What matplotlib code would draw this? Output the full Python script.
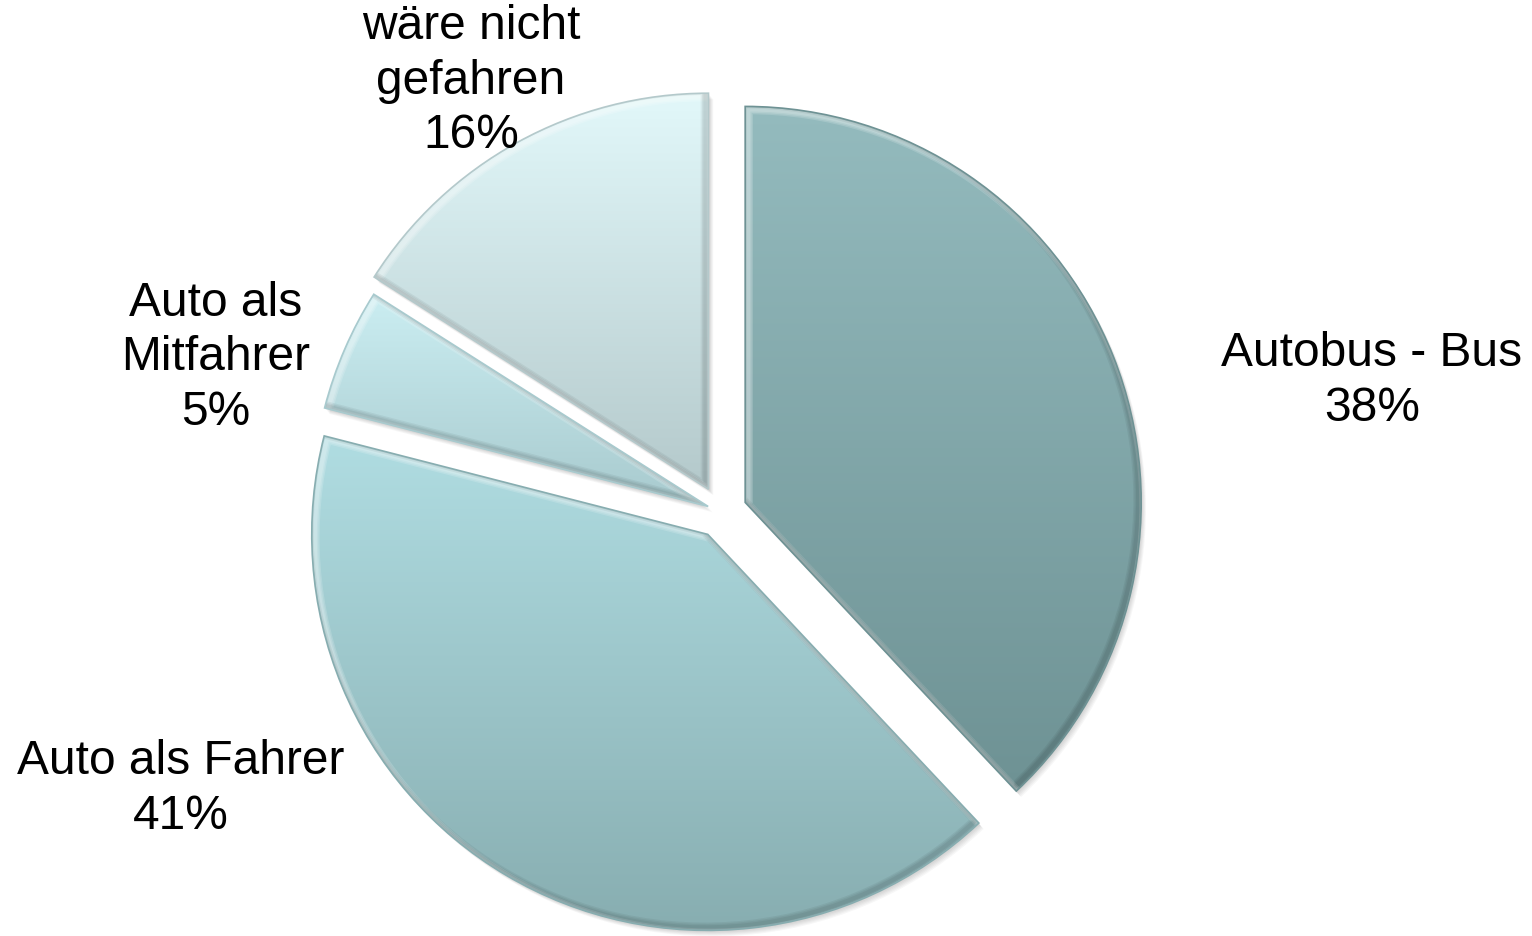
import matplotlib
matplotlib.use('Agg')
import matplotlib.pyplot as plt
import matplotlib.patches as mpatches
from matplotlib.path import Path
from matplotlib.colors import LinearSegmentedColormap
import numpy as np

# chart data
categories = ['Autobus - Bus', 'Auto als Fahrer', 'Auto als\nMitfahrer', 'wäre nicht\ngefahren']
shares = [38, 41, 5, 16]

# style: top / bottom colour of the vertical gradient per slice
top_colors = ['#94bbbe', '#b0dde2', '#cbeef2', '#e2f8fa']
bottom_colors = ['#6e9294', '#87adb0', '#a8cace', '#b4c9cb']
explode = [26, 26, 14, 26]
label_pos = [(1372, 556), (181, 148), (216, 579), (471, 856)]

plt.rcParams['font.family'] = ['Liberation Sans', 'DejaVu Sans']

fig = plt.figure(figsize=(15.32, 9.37), dpi=100)
ax = fig.add_axes([0, 0, 1, 1])

wedges, _ = ax.pie(shares, startangle=90, counterclock=False,
                   explode=explode, radius=396, center=(721, 424))

grad = np.linspace(0, 1, 256).reshape(-1, 1)
for i, w in enumerate(wedges):
    #   soft shadow below/right of each slice
    for k in range(1, 7):
        sh = mpatches.Wedge((w.center[0] + 0.8 * k, w.center[1] - 1.0 * k), w.r,
                            w.theta1, w.theta2, facecolor='#000000',
                            edgecolor='none', alpha=0.03, zorder=0)
        ax.add_patch(sh)

    path = w.get_path()
    verts = path.vertices
    x0, x1 = verts[:, 0].min(), verts[:, 0].max()
    y0, y1 = verts[:, 1].min(), verts[:, 1].max()
    cmap = LinearSegmentedColormap.from_list('g%d' % i, [top_colors[i], bottom_colors[i]])
    im = ax.imshow(grad, cmap=cmap, extent=(x0, x1, y0, y1), origin='upper',
                   aspect='auto', zorder=1, interpolation='bilinear')
    im.set_clip_path(w)

    #   bevel: light rim on upper-left edges, dark rim on lower-right edges
    for dx, dy, col, a in [(3, -3, 'white', 0.16), (-3, 3, 'black', 0.05)]:
        for lw in (7, 5, 3):
            rim = mpatches.PathPatch(Path(verts + [dx, dy], path.codes), facecolor='none',
                                     edgecolor=col, linewidth=lw, alpha=a, zorder=1.5)
            ax.add_patch(rim)
            rim.set_clip_path(w)

    w.set_facecolor('none')
    w.set_edgecolor(bottom_colors[i])
    w.set_linewidth(1.2)
    w.set_zorder(2)

for i in range(len(shares)):
    ax.text(label_pos[i][0], label_pos[i][1], '%s\n%d%%' % (categories[i], shares[i]),
            ha='center', va='center', fontsize=34.5, color='black', linespacing=1.26)

ax.set_xlim(0, 1532)
ax.set_ylim(0, 937)
ax.set_aspect('equal')
ax.axis('off')

fig.savefig('out.png', dpi=100, facecolor='white')
